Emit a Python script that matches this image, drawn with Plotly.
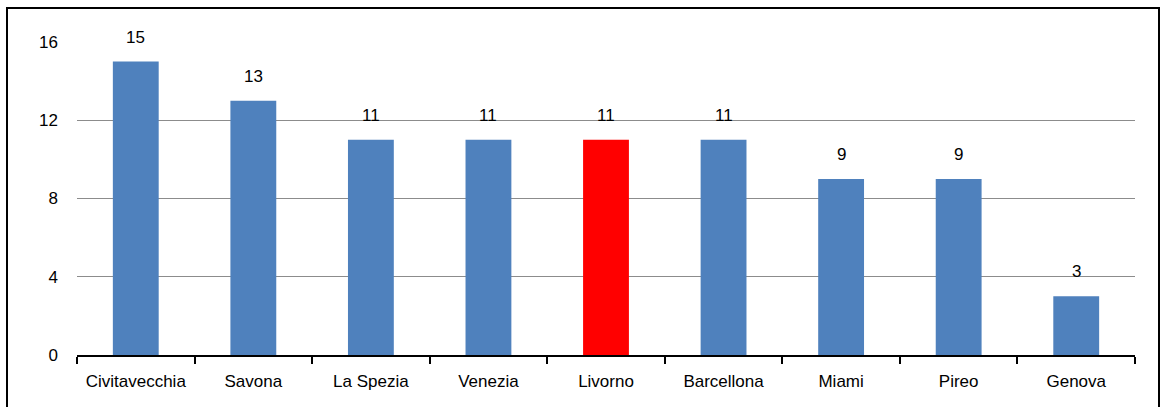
import plotly.graph_objects as go

categories = ["Civitavecchia", "Savona", "La Spezia", "Venezia", "Livorno",
              "Barcellona", "Miami", "Pireo", "Genova"]
values = [15, 13, 11, 11, 11, 11, 9, 9, 3]
highlight = "Livorno"
tick_vals = [0, 4, 8, 12, 16]

BLUE = "#4F81BD"
RED = "#FF0000"
colors = [RED if c == highlight else BLUE for c in categories]

FONT = "Liberation Sans, Arial, sans-serif"
FS = 17

fig = go.Figure()
fig.add_trace(go.Bar(
    x=categories, y=values,
    marker=dict(color=colors, line=dict(width=0)),
    hoverinfo="x+y",
))

for c, v in zip(categories, values):
    fig.add_annotation(x=c, y=v, text=str(v), showarrow=False,
                       yanchor="bottom", yshift=13,
                       font=dict(family=FONT, size=FS, color="#000000"))

W, H = 1161, 407
ml, mr, mt, mb = 77, 26, 42, 52
pw, ph = W - ml - mr, H - mt - mb
# frame around whole chart (in paper coords)
fig.add_shape(type="rect", xref="paper", yref="paper",
              x0=(7 - ml) / pw, x1=(1159 - ml) / pw,
              y0=(H - mb - 420) / ph, y1=(H - mb - 8) / ph,
              line=dict(color="#000000", width=2), fillcolor="rgba(0,0,0,0)",
              layer="above")

fig.update_layout(
    width=W, height=H,
    margin=dict(l=ml, r=mr, t=mt, b=mb, autoexpand=False),
    paper_bgcolor="white", plot_bgcolor="white",
    bargap=0.61,
    showlegend=False,
    font=dict(family=FONT, size=FS, color="#000000"),
    xaxis=dict(
        type="category", automargin=False, tickangle=0,
        showline=True, linecolor="#000000", linewidth=2,
        ticks="outside", tickson="boundaries", ticklen=7, tickwidth=1.5,
        tickcolor="#000000", ticklabelstandoff=10,
        tickfont=dict(family=FONT, size=FS, color="#000000"),
        showgrid=False,
    ),
    yaxis=dict(
        range=[0, 16], tickvals=tick_vals, automargin=False,
        showgrid=True, gridcolor="#8C8C8C", gridwidth=1,
        zeroline=False, showline=False,
        ticks="", ticklabelstandoff=18,
        tickfont=dict(family=FONT, size=FS, color="#000000"),
    ),
)

fig.write_html("out.html")
